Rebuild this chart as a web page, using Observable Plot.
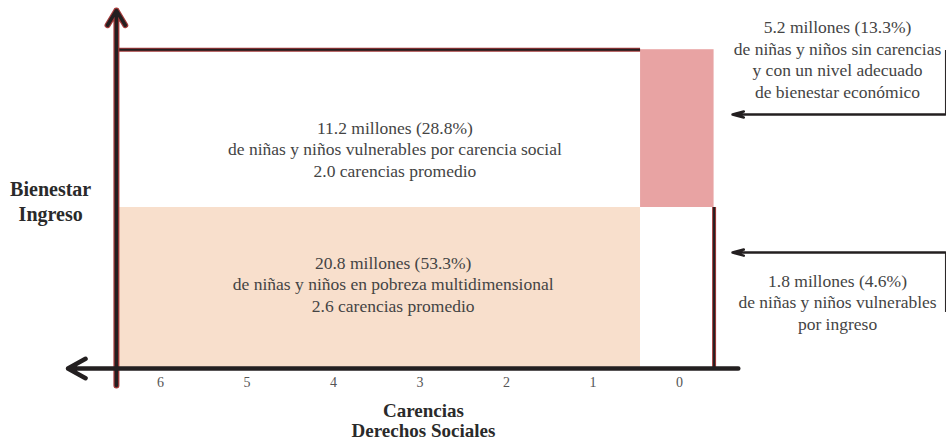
<!DOCTYPE html>
<html><head><meta charset="utf-8">
<script src="https://cdn.jsdelivr.net/npm/d3@7"></script>
<script src="https://cdn.jsdelivr.net/npm/@observablehq/plot@0.6"></script>
<style>
html,body{margin:0;padding:0;background:#fff;}
svg{display:block;}
svg text{font-family:"Liberation Serif","DejaVu Serif",serif;}
</style></head>
<body><div id="chart"></div>
<script>
// Tick labels of the Carencias axis
const carencias = [6, 5, 4, 3, 2, 1, 0];

// Regions (carencias range on x, bienestar range on y)
const regionNombre = ["Pobreza multidimensional", "Vulnerables por carencia social", "Sin carencias", "Vulnerables por ingreso"];
const regionCarDesde = [6.5, 6.5, 0.45, 0.45];
const regionCarHasta = [0.45, 0.45, -0.4, -0.4];
const regionBienDesde = [0, 1, 1, 0];
const regionBienHasta = [1, 1.98, 1.98, 1];
const regionColor = ["#f8dfcc", "#ffffff", "#e8a3a3", "#ffffff"];

// Texts
const millones = [20.8, 11.2, 5.2, 1.8];
const porcentaje = [53.3, 28.8, 13.3, 4.6];
const promedioCarencias = [2.6, 2.0, null, null];
const descripcion = [
  "de niñas y niños en pobreza multidimensional",
  "de niñas y niños vulnerables por carencia social",
  "de niñas y niños sin carencias\ny con un nivel adecuado\nde bienestar económico",
  "de niñas y niños vulnerables\npor ingreso"
];

const regions = regionNombre.map((n, i) => ({
  nombre: n, x1: regionCarDesde[i], x2: regionCarHasta[i],
  y1: regionBienDesde[i], y2: regionBienHasta[i], fill: regionColor[i]
}));

const labelText = regionNombre.map((n, i) =>
  `${millones[i].toFixed(1)} millones (${porcentaje[i].toFixed(1)}%)\n${descripcion[i]}` +
  (promedioCarencias[i] != null ? `\n${promedioCarencias[i].toFixed(1)} carencias promedio` : "")
);
// label anchors (carencias, bienestar)
const labelPos = [[3.31, 0.53], [3.29, 1.367], [-1.827, 1.926], [-1.827, 0.416]];
const labels = labelText.map((t, i) => ({text: t, x: labelPos[i][0], y: labelPos[i][1]}));

const serif = "Liberation Serif";
const dark = "#231f20";
const red = "#a33a3a";

const chart = Plot.plot({
  width: 946, height: 442,
  marginTop: 0, marginBottom: 0, marginLeft: 0, marginRight: 0,
  x: {domain: [7.85, -3.087], axis: null},
  y: {domain: [-0.4596, 2.2857], axis: null},
  style: {background: "#fff"},
  marks: [
    Plot.rect(regions, {x1: "x1", x2: "x2", y1: "y1", y2: "y2", fill: "fill"}),
    // top border of vulnerable-by-social region
    Plot.ruleY([1.98], {x1: 6.5, x2: 0.45, stroke: red, strokeWidth: 4}),
    Plot.ruleY([1.98], {x1: 6.5, x2: 0.45, stroke: dark, strokeWidth: 2}),
    // right border of vulnerable-by-income region
    Plot.ruleX([-0.4], {y1: 0, y2: 1, stroke: red, strokeWidth: 4}),
    Plot.ruleX([-0.4], {y1: 0, y2: 1, stroke: dark, strokeWidth: 2}),
    // vertical axis (Bienestar)
    Plot.arrow([0], {x1: 6.51, x2: 6.51, y1: -0.106, y2: 2.224, stroke: red, strokeWidth: 6, headLength: 4.3, headAngle: 62}),
    Plot.arrow([0], {x1: 6.51, x2: 6.51, y1: -0.106, y2: 2.224, stroke: dark, strokeWidth: 3.5, headLength: 7.4, headAngle: 62}),
    // horizontal axis (Carencias)
    Plot.arrow([0], {x1: -0.68, x2: 7.07, y1: 0, y2: 0, stroke: dark, strokeWidth: 4.5, headLength: 6.7, headAngle: 58}),
    // callout arrows
    Plot.ruleX([-3.075], {y1: 1.975, y2: 1.578, stroke: dark, strokeWidth: 1}),
    Plot.arrow([0], {x1: -3.075, x2: -0.613, y1: 1.578, y2: 1.578, stroke: dark, strokeWidth: 2.5, headLength: 7, headAngle: 30}),
    Plot.ruleX([-3.075], {y1: 0.72, y2: 0.348, stroke: dark, strokeWidth: 1}),
    Plot.arrow([0], {x1: -3.075, x2: -0.613, y1: 0.72, y2: 0.72, stroke: dark, strokeWidth: 2.5, headLength: 7, headAngle: 30}),
    // tick labels
    Plot.text(carencias, {x: d => d, y: -0.087, text: d => String(d), fontSize: 14, fontFamily: serif, fill: "#555"}),
    // region labels
    Plot.text(labels, {x: "x", y: "y", text: "text", fontSize: 17.5, lineHeight: 1.23, fontFamily: serif, fill: "#444"}),
    // axis titles
    Plot.text(["Bienestar\nIngreso"], {x: 7.27, y: 1.043, fontSize: 20, fontWeight: "bold", lineHeight: 1.25, fontFamily: serif, fill: "#2a2a2a"}),
    Plot.text(["Carencias\nDerechos Sociales"], {x: 2.96, y: -0.322, fontSize: 19, fontWeight: "bold", lineHeight: 1.1, fontFamily: serif, fill: "#2a2a2a"})
  ]
});
document.getElementById("chart").appendChild(chart);
</script></body></html>
